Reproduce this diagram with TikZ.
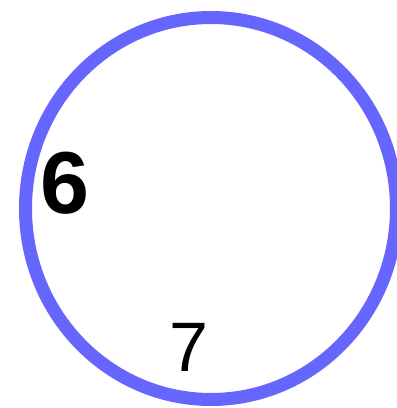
\documentclass[tikz,border=0pt]{standalone}
\usepackage{fontspec}
\setmainfont{Liberation Sans}
\definecolor{ringblue}{RGB}{102,102,255}
\begin{document}
\begin{tikzpicture}[x=1pt,y=-1pt,
  ring/.style={draw=ringblue,line width=13pt},
  label/.style={inner sep=0pt,text=black}]
\useasboundingbox (0,0) rectangle (397,408);
\clip (0,0) rectangle (397,408);
\draw[ring] (211,208.5) ellipse [x radius=185.5, y radius=191];
\node[label,font=\fontsize{88}{88}\selectfont\bfseries] (six) at (64.5,183.5) {6};
\node[label,font=\fontsize{70}{70}\selectfont] (seven) at (188.5,347) {7};
\end{tikzpicture}
\end{document}
